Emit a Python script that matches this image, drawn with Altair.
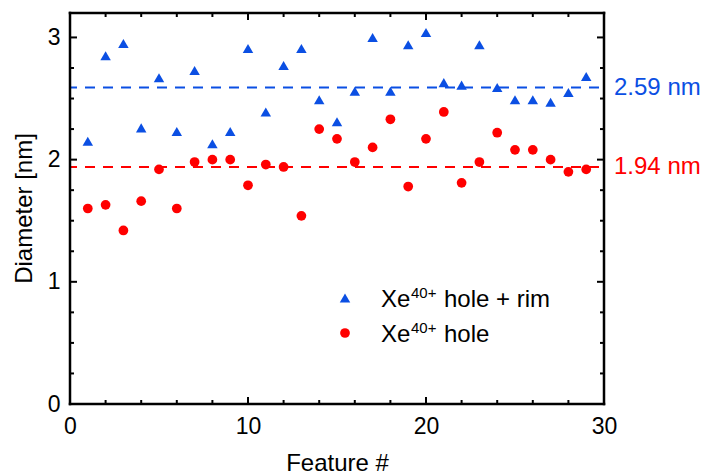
import altair as alt
import pandas as pd

# ---- data ----
features = list(range(1, 30))
hole_rim = [2.15, 2.85, 2.95, 2.26, 2.67, 2.23, 2.73, 2.13, 2.23, 2.91,
            2.39, 2.77, 2.91, 2.49, 2.31, 2.56, 3.00, 2.56, 2.94, 3.04,
            2.63, 2.61, 2.94, 2.59, 2.49, 2.49, 2.47, 2.55, 2.68]
hole = [1.60, 1.63, 1.42, 1.66, 1.92, 1.60, 1.98, 2.00, 2.00, 1.79,
        1.96, 1.94, 1.54, 2.25, 2.17, 1.98, 2.10, 2.33, 1.78, 2.17,
        2.39, 1.81, 1.98, 2.22, 2.08, 2.08, 2.00, 1.90, 1.92]
mean_values = [2.59, 1.94]
mean_labels = ["2.59 nm", "1.94 nm"]
mean_colors = ["#0b4fe3", "#ff0000"]

x_major = [0, 10, 20, 30]
x_minor = [2, 4, 6, 8, 12, 14, 16, 18, 22, 24, 26, 28]
y_major = [0, 1, 2, 3]
y_minor = [0.25, 0.5, 0.75, 1.25, 1.5, 1.75, 2.25, 2.5, 2.75]

BLUE = "#0b4fe3"
RED = "#ff0000"
FONT = "Liberation Sans"
W, H = 534, 391

xscale = alt.Scale(domain=[0, 30], nice=False, zero=False)
yscale = alt.Scale(domain=[0, 3.2], nice=False, zero=False)
xaxis = alt.Axis(values=x_major, format="d", ticks=False, tickSize=0, domain=False,
                 grid=False, labelFlush=False, labelOverlap=False,
                 labelFontSize=23, labelFont=FONT, labelColor="black",
                 labelPadding=11, title="Feature #", titleFontSize=24, titleFont=FONT,
                 titleFontWeight="normal", titleColor="black",
                 titleBaseline="alphabetic", titleY=66)
yaxis = alt.Axis(values=y_major, format="d", ticks=False, tickSize=0, domain=False,
                 grid=False, labelFlush=False, labelOverlap=False,
                 labelFontSize=23, labelFont=FONT, labelColor="black",
                 labelPadding=10, title="Diameter [nm]", titleFontSize=24, titleFont=FONT,
                 titleFontWeight="normal", titleColor="black", titleAngle=-90,
                 titleBaseline="alphabetic", titleAlign="center", titleX=-39, titleY=195)


def X(field):
    return alt.X(field, type="quantitative", scale=xscale, axis=xaxis)


def Y(field):
    return alt.Y(field, type="quantitative", scale=yscale, axis=yaxis)


df_rim = pd.DataFrame({"feature": features, "d": hole_rim})
df_hole = pd.DataFrame({"feature": features, "d": hole})
df_mean = pd.DataFrame({"v": mean_values, "label": mean_labels, "c": mean_colors,
                        "x0": [0, 0], "x1": [30, 30]})

mean_lines = alt.Chart(df_mean).mark_rule(strokeWidth=2, strokeDash=[10, 8],
                                          strokeDashOffset=3).encode(
    x=X("x0"), x2="x1", y=Y("v"),
    color=alt.Color("c:N", scale=None))

mean_text = alt.Chart(df_mean).mark_text(align="left", baseline="middle", dx=10,
                                         fontSize=24, font=FONT).encode(
    x=X("x1"), y=Y("v"), text="label:N", color=alt.Color("c:N", scale=None))

pts_rim = alt.Chart(df_rim).mark_point(shape="triangle-up", filled=True, size=110,
                                       color=BLUE, opacity=1).encode(
    x=X("feature"), y=Y("d"))
pts_hole = alt.Chart(df_hole).mark_point(shape="circle", filled=True, size=95,
                                         color=RED, opacity=1).encode(
    x=X("feature"), y=Y("d"))


# inward ticks on all four sides
def xticks(vals, length):
    d = pd.DataFrame({"t": vals})
    bottom = alt.Chart(d).mark_rule(color="black", strokeWidth=2).encode(
        x=X("t"), y=alt.value(H), y2=alt.value(H - length))
    top = alt.Chart(d).mark_rule(color="black", strokeWidth=2).encode(
        x=X("t"), y=alt.value(0), y2=alt.value(length))
    return [bottom, top]


def yticks(vals, length):
    d = pd.DataFrame({"t": vals})
    left = alt.Chart(d).mark_rule(color="black", strokeWidth=2).encode(
        y=Y("t"), x=alt.value(0), x2=alt.value(length))
    right = alt.Chart(d).mark_rule(color="black", strokeWidth=2).encode(
        y=Y("t"), x=alt.value(W), x2=alt.value(W - length))
    return [left, right]


ticks = xticks(x_major, 7) + xticks(x_minor, 4) + yticks(y_major, 7) + yticks(y_minor, 4)

# frame
frame_df = pd.DataFrame({"k": [0]})
frame = [
    alt.Chart(frame_df).mark_rule(color="black", strokeWidth=2.5).encode(
        x=alt.value(0), x2=alt.value(0), y=alt.value(-1.25), y2=alt.value(H + 1.25)),
    alt.Chart(frame_df).mark_rule(color="black", strokeWidth=2.5).encode(
        x=alt.value(W), x2=alt.value(W), y=alt.value(-1.25), y2=alt.value(H + 1.25)),
    alt.Chart(frame_df).mark_rule(color="black", strokeWidth=2.5).encode(
        y=alt.value(0), y2=alt.value(0), x=alt.value(-1.25), x2=alt.value(W + 1.25)),
    alt.Chart(frame_df).mark_rule(color="black", strokeWidth=2.5).encode(
        y=alt.value(H), y2=alt.value(H), x=alt.value(-1.25), x2=alt.value(W + 1.25)),
]

# custom legend (superscript text)
leg_sym = pd.DataFrame({"row": [0]})
leg_tri = alt.Chart(leg_sym).mark_point(shape="triangle-up", filled=True, size=110,
                                        color=BLUE, opacity=1).encode(
    x=alt.value(275), y=alt.value(285))
leg_cir = alt.Chart(leg_sym).mark_point(shape="circle", filled=True, size=95,
                                        color=RED, opacity=1).encode(
    x=alt.value(275), y=alt.value(320))


def txt(s, x, y, size):
    return alt.Chart(pd.DataFrame({"s": [s]})).mark_text(
        align="left", baseline="alphabetic", fontSize=size, font=FONT, color="black").encode(
        x=alt.value(x), y=alt.value(y), text="s:N")


legend = [leg_tri, leg_cir,
          txt("Xe", 311, 294, 24), txt("40+", 341, 285, 15), txt("hole + rim", 374, 294, 24),
          txt("Xe", 311, 329, 24), txt("40+", 341, 320, 15), txt("hole", 374, 329, 24)]

chart = alt.layer(mean_lines, pts_rim, pts_hole, mean_text, *ticks, *frame, *legend).properties(
    width=W, height=H,
    autosize=alt.AutoSizeParams(type="none"),
    padding={"left": 70, "top": 13, "right": 100, "bottom": 71},
).configure_view(stroke=None).configure(background="white")

chart.save("out.html", embed_options={"renderer": "svg", "actions": False})
